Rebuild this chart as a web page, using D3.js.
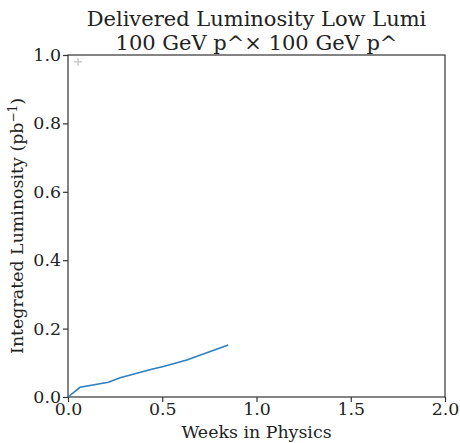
<!DOCTYPE html>
<meta charset="utf-8">
<script src="https://cdn.jsdelivr.net/npm/d3@7"></script>
<style>
    body { margin: 0; background: white; }
    text { font-family: "DejaVu Serif", serif; fill: #222; }
</style>
<div id="chart"></div>
<script>
    // delivered luminosity curve (weeks, pb^-1)
    var weeks = [0, 0.064, 0.214, 0.276, 0.444, 0.506, 0.63, 0.85];
    var lumi = [0, 0.0285, 0.043, 0.056, 0.081, 0.089, 0.108, 0.152];
    // light gray marker in the corner
    var markerWeeks = [0.053];
    var markerLumi = [0.98];
    var xTicks = [0, 0.5, 1.0, 1.5, 2.0];
    var yTicks = [0, 0.2, 0.4, 0.6, 0.8, 1.0];

    var W = 460, H = 443;
    var margin = {top: 55, right: 15, bottom: 46, left: 68},
        width = W - margin.left - margin.right,
        height = H - margin.top - margin.bottom;

    var root = d3.select("#chart").append("svg")
        .attr("width", W)
        .attr("height", H);

    var svg = root.append("g")
        .attr("transform", "translate(" + margin.left + "," + margin.top + ")");

    var x = d3.scaleLinear().domain([0, 2]).range([0, width]);
    var y = d3.scaleLinear().domain([0, 1]).range([height, 0]);

    // axes
    var xAxis = svg.append("g")
        .attr("transform", "translate(0," + height + ")")
        .call(d3.axisBottom(x).tickValues(xTicks).tickFormat(d3.format(".1f")).tickSize(5).tickPadding(1));
    var yAxis = svg.append("g")
        .call(d3.axisLeft(y).tickValues(yTicks).tickFormat(d3.format(".1f")).tickSize(5).tickPadding(2));

    [xAxis, yAxis].forEach(function(a) {
        a.select(".domain").remove();
        a.selectAll("line").attr("stroke", "#333").attr("stroke-width", 1.2);
        a.selectAll("text").style("font-size", "17.4px").attr("fill", "#222");
    });

    // frame
    svg.append("rect")
        .attr("width", width)
        .attr("height", height)
        .attr("fill", "none")
        .attr("stroke", "#333")
        .attr("stroke-width", 1.2);

    // marker
    var msz = 4;
    markerWeeks.forEach(function(w, i) {
        var cx = x(w), cy = y(markerLumi[i]);
        svg.append("path")
            .attr("d", "M" + (cx - msz) + "," + cy + "H" + (cx + msz) + "M" + cx + "," + (cy - msz) + "V" + (cy + msz))
            .attr("stroke", "#ccc")
            .attr("stroke-width", 1.5);
    });

    // curve
    var line = d3.line()
        .x(function(d, i) { return x(weeks[i]); })
        .y(function(d, i) { return y(lumi[i]); });
    svg.append("path")
        .datum(weeks)
        .attr("d", line)
        .attr("fill", "none")
        .attr("stroke", "#2c7fc1")
        .attr("stroke-width", 1.6);

    // title
    root.append("text")
        .attr("x", margin.left + width / 2)
        .attr("y", 26)
        .attr("text-anchor", "middle")
        .style("font-size", "21px")
        .text("Delivered Luminosity Low Lumi");
    root.append("text")
        .attr("x", margin.left + width / 2)
        .attr("y", 50)
        .attr("text-anchor", "middle")
        .style("font-size", "21px")
        .text("100 GeV p^\u00d7 100 GeV p^");

    // axis labels
    root.append("text")
        .attr("x", margin.left + width / 2)
        .attr("y", 438)
        .attr("text-anchor", "middle")
        .style("font-size", "17.4px")
        .text("Weeks in Physics");

    var yl = root.append("text")
        .attr("transform", "translate(23," + (margin.top + height / 2) + ") rotate(-90)")
        .attr("text-anchor", "middle")
        .style("font-size", "17.4px");
    yl.append("tspan").text("Integrated Luminosity (pb");
    yl.append("tspan").attr("dy", -6).style("font-size", "12px").text("\u22121");
    yl.append("tspan").attr("dy", 6).text(")");
</script>
